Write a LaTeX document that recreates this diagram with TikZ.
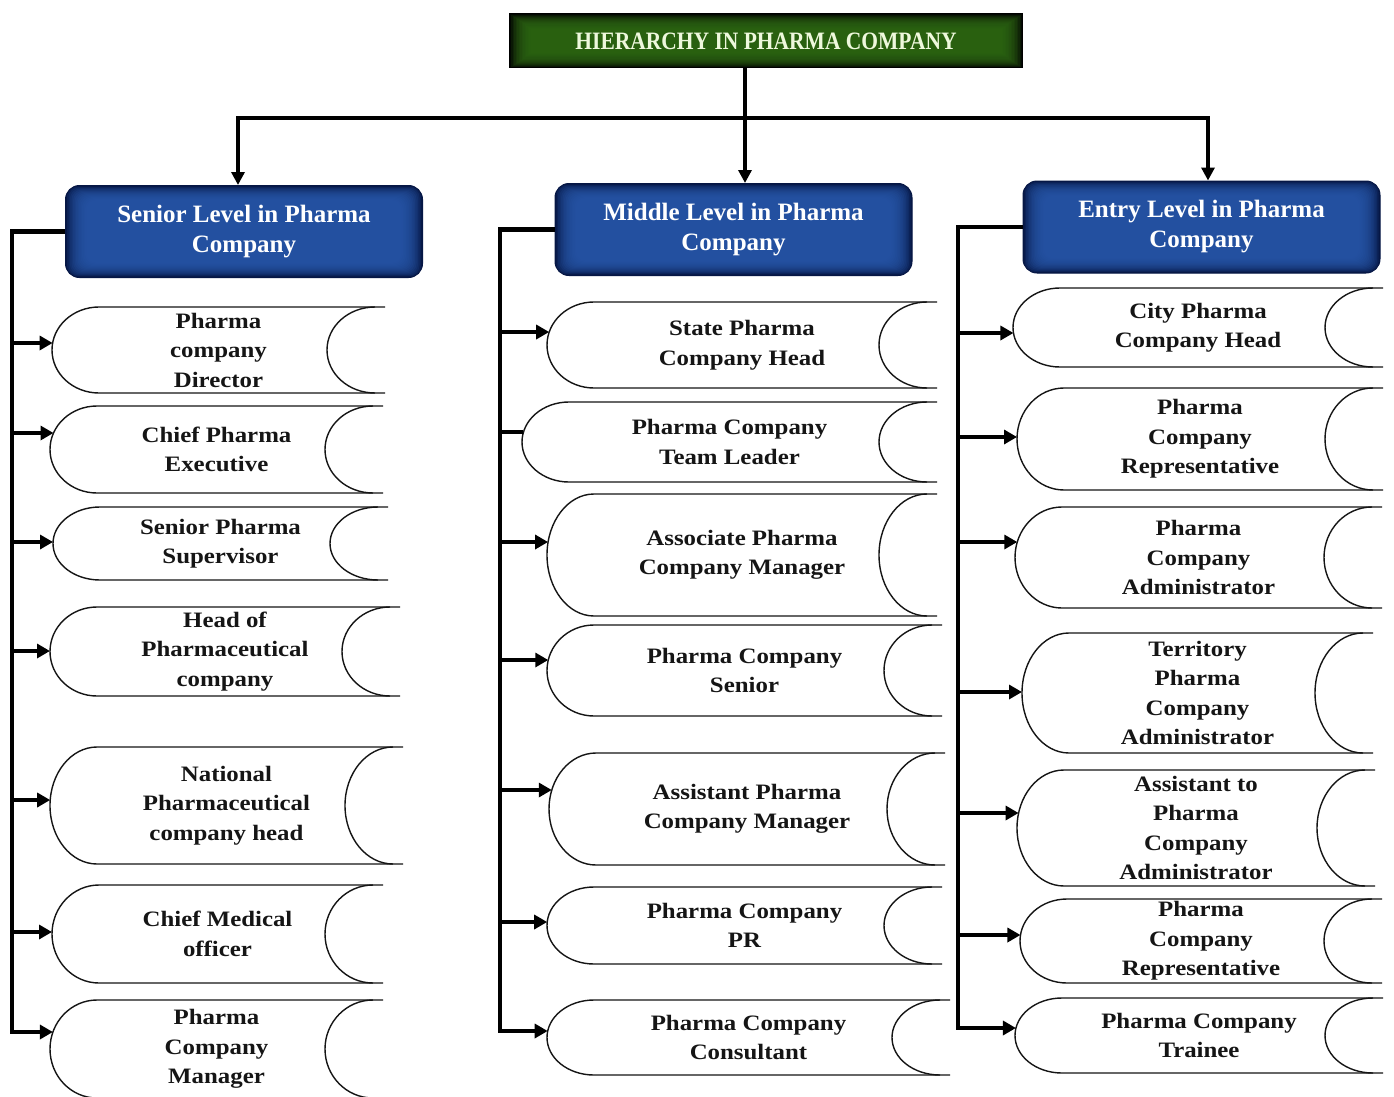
\documentclass[tikz,border=0pt]{standalone}
\usepackage{fontspec}
\setmainfont{Liberation Serif}
\newfontfamily\itemfont[FakeStretch=1.13]{Liberation Serif}
\newfontfamily\headfont{Liberation Serif}
\newfontfamily\titlefont[FakeStretch=0.86]{Liberation Serif}
\usetikzlibrary{arrows.meta,calc}
\definecolor{ttlIn}{HTML}{2E6A14}
\definecolor{ttlOut}{HTML}{030802}
\definecolor{ttlText}{HTML}{EEF8DC}
\definecolor{lvlIn}{HTML}{2858AA}
\definecolor{lvlOut}{HTML}{061745}
\definecolor{ink}{HTML}{151515}
\tikzset{
  itemtext/.style={font=\itemfont\bfseries\fontsize{22}{29.5}\selectfont, text=ink, align=center, inner sep=0pt},
  vignette/.style n args={3}{fill=#2, path picture={
      \foreach \i in {1.5,3,...,21}
        \fill[#1, opacity=0.17, rounded corners=#3]
          ([shift={(\i pt,-0.7*\i pt)}]path picture bounding box.north west) rectangle
          ([shift={(-\i pt,0.7*\i pt)}]path picture bounding box.south east);}},
  lvlbox/.style={rounded corners=14pt, vignette={lvlIn}{lvlOut}{10pt},
    draw=lvlOut, line width=1pt, minimum width=357pt, minimum height=92pt,
    align=center, text=white, font=\headfont\bfseries\fontsize{25}{30}\selectfont},
  ttlbox/.style={vignette={ttlIn}{ttlOut}{0pt}, draw=black, line width=1pt,
    minimum width=513pt, minimum height=54pt, text=ttlText,
    font=\titlefont\bfseries\fontsize{25}{30}\selectfont},
  scrolline/.style={draw=ink, line width=1.4pt},
  trunk/.style={line width=4.5pt, draw=black, line join=miter},
  harr/.style={trunk, -{Triangle[length=13pt,width=14pt]}},
  conn/.style={line width=4pt, draw=black, line join=miter},
}
% #1 name, #2 xL, #3 xR, #4 top, #5 bottom, #6 text, #7 arrow y
\newcommand\scrollbox[7]{%
  \pgfmathsetmacro\sbm{(#4+#5)/2}%
  \pgfmathsetmacro\sbh{(#5-#4)/2}%
  \pgfmathsetmacro\sbk{0.5523*\sbh}%
  \pgfmathsetmacro\sbA{#2+47}%
  \pgfmathsetmacro\sbB{#2+47-0.5523*47}%
  \pgfmathsetmacro\sbR{#3-10}%
  \pgfmathsetmacro\sbRL{#3-10-48}%
  \pgfmathsetmacro\sbRc{#3-10-0.5523*48}%
  \pgfmathsetmacro\sbax{#2+47-47*sqrt(max(0,1-((#7-\sbm)/\sbh)^2))}%
  \draw[scrolline] (#3,#4) -- (\sbA,#4) .. controls (\sbB,#4) and (#2,\sbm-\sbk) .. (#2,\sbm)
     .. controls (#2,\sbm+\sbk) and (\sbB,#5) .. (\sbA,#5) -- (#3,#5);
  \draw[scrolline] (\sbR,#4) .. controls (\sbRc,#4) and (\sbRL,\sbm-\sbk) .. (\sbRL,\sbm)
     .. controls (\sbRL,\sbm+\sbk) and (\sbRc,#5) .. (\sbR,#5);
  \node[itemtext] (#1) at ({(#2+#3)/2},\sbm) {#6};
  \coordinate (#1-l) at (\sbax,#7);
}
\begin{document}
\begin{tikzpicture}[x=1pt,y=-1pt]
\useasboundingbox[fill=white] (0,0) rectangle (1394,1097);

% title and level boxes
\node[ttlbox] (title) at (766,41) {HIERARCHY IN PHARMA COMPANY};
\node[lvlbox] (senior) at (244,231.5) {Senior Level in Pharma\\Company};
\node[lvlbox] (middle) at (733.5,229.5) {Middle Level in Pharma\\Company};
\node[lvlbox] (entry) at (1201.5,227) {Entry Level in Pharma\\Company};

\coordinate (tj) at (745,118);
\coordinate (bl) at (238,118);
\coordinate (br) at (1208,118);
\draw[conn] (title.south -| tj) -- (tj);
\draw[conn, {Triangle[length=13pt,width=13pt]}-{Triangle[length=13pt,width=13pt]}]
  (senior.north -| bl) |- (br) -- (entry.north -| br);
\draw[conn, -{Triangle[length=13pt,width=13pt]}] (tj) -- (middle.north -| tj);

% senior column
\scrollbox{s1}{52}{385}{307}{393}{Pharma\\company\\Director}{343}
\scrollbox{s2}{50}{383}{406}{493}{Chief Pharma\\Executive}{433}
\scrollbox{s3}{53}{388}{507}{580}{Senior Pharma\\Supervisor}{542}
\scrollbox{s4}{50}{400}{607}{696}{Head of\\Pharmaceutical\\company}{651}
\scrollbox{s5}{50}{403}{747}{864}{National\\Pharmaceutical\\company head}{800}
\scrollbox{s6}{52}{383}{885}{983}{Chief Medical\\officer}{932}
\scrollbox{s7}{50}{383}{1000}{1098}{Pharma\\Company\\Manager}{1032}

% middle column
\scrollbox{m1}{547}{937}{302}{388}{State Pharma\\Company Head}{332}
\scrollbox{m2}{522}{937}{402}{482}{Pharma Company\\Team Leader}{432}
\scrollbox{m3}{547}{937}{494}{616}{Associate Pharma\\Company Manager}{542}
\scrollbox{m4}{547}{942}{625}{716}{Pharma Company\\Senior}{660}
\scrollbox{m5}{549}{945}{753}{865}{Assistant Pharma\\Company Manager}{790}
\scrollbox{m6}{547}{942}{887}{964}{Pharma Company\\PR}{922}
\scrollbox{m7}{547}{950}{1000}{1075}{Pharma Company\\Consultant}{1031}

% entry column
\scrollbox{e1}{1013}{1383}{288}{367}{City Pharma\\Company Head}{333}
\scrollbox{e2}{1017}{1383}{388}{490}{Pharma\\Company\\Representative}{437}
\scrollbox{e3}{1015}{1382}{507}{608}{Pharma\\Company\\Administrator}{542}
\scrollbox{e4}{1022}{1373}{633}{753}{Territory\\Pharma\\Company\\Administrator}{692}
\scrollbox{e5}{1017}{1375}{770}{886}{Assistant to\\Pharma\\Company\\Administrator}{813}
\scrollbox{e6}{1020}{1382}{899}{983}{Pharma\\Company\\Representative}{935}
\scrollbox{e7}{1015}{1383}{998}{1073}{Pharma Company\\Trainee}{1028}

% trunks
\coordinate (tS) at (12,0);
\coordinate (tM) at (500,0);
\coordinate (tE) at (958,0);
\draw[harr] (senior.west) -| (tS |- s7-l) -- (s7-l);
\foreach \n in {s1,s2,s3,s4,s5,s6} \draw[harr] (tS |- \n-l) -- (\n-l);
\draw[harr] (middle.west) -| (tM |- m7-l) -- (m7-l);
\foreach \n in {m1,m3,m4,m5,m6} \draw[harr] (tM |- \n-l) -- (\n-l);
\draw[trunk] (tM |- m2-l) -- (m2-l);
\draw[harr] (entry.west) -| (tE |- e7-l) -- (e7-l);
\foreach \n in {e1,e2,e3,e4,e5,e6} \draw[harr] (tE |- \n-l) -- (\n-l);
\end{tikzpicture}
\end{document}
